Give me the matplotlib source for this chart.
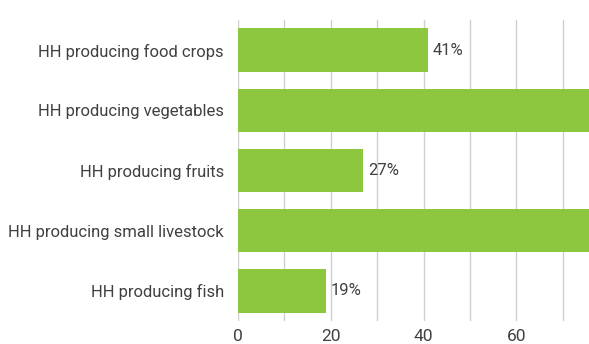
import matplotlib.pyplot as plt
from matplotlib import rcParams

rcParams.update({"font.family": ["Roboto", "DejaVu Sans"]})

categories = ["HH producing food crops", "HH producing vegetables",
              "HH producing fruits", "HH producing small livestock",
              "HH producing fish"]
values = [41, 80, 27, 79, 19]
xticks = [0, 20, 40, 60]

bar_color = "#8dc63f"
text_color = "#404040"

fig = plt.figure(figsize=(5.89, 3.44), dpi=100)
# axes runs off the right edge of the figure, so the long bars get cut
ax = fig.add_axes([238 / 589, 23 / 344, 351 / 589, 301 / 344])
xmax = 351 / 4.64
ax.set_xlim(0, xmax)

y = list(range(len(categories)))
ax.barh(y, values, height=0.72, color=bar_color, zorder=2)
for yi, v in zip(y, values):
    if v + 8 < xmax:  # labels of the long bars would sit past the edge
        ax.text(v + 1.0, yi, f"{v}%", va="center", ha="left",
                fontsize=12, color=text_color)

ax.set_ylim(len(categories) - 0.5, -0.5)
ax.set_yticks(y)
ax.set_yticklabels(categories, fontsize=12, color=text_color)
ax.set_xticks(xticks)
ax.set_xticklabels([str(t) for t in xticks], fontsize=12.5, color=text_color)
ax.set_xticks(range(10, 80, 20), minor=True)
ax.grid(axis="x", which="both", color="#cfcfcf", linewidth=1, zorder=0)
ax.tick_params(axis="both", which="both", length=0)
ax.tick_params(axis="y", pad=10)
ax.tick_params(axis="x", pad=6)
for s in ax.spines.values():
    s.set_visible(False)

fig.savefig("out.png", dpi=100)
